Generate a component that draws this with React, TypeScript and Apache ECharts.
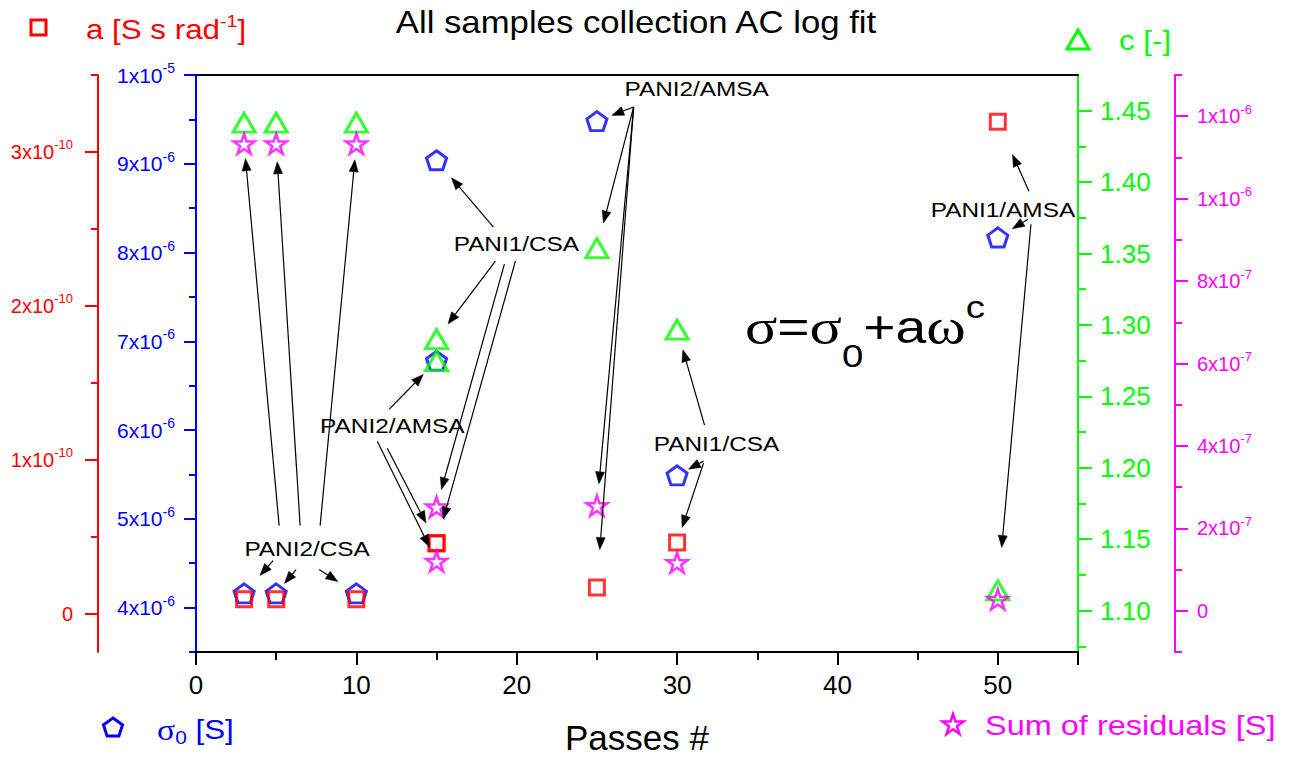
import React, { useEffect, useRef } from "react";
import * as echarts from "echarts";

const FONT = "'Liberation Sans', Arial, Helvetica, sans-serif";
const SERIF = "'Liberation Serif', 'Times New Roman', serif";

const BLUE = "#0000ff";
const RED = "#ff0000";
const GREEN = "#00ff00";
const MAGENTA = "#ff00ff";
const BLACK = "#000000";

// Number of passes for every fitted sample
const passes = [3, 5, 10, 15, 15, 25, 30, 50];
const sampleNames = ["PANI2/CSA", "PANI2/CSA", "PANI2/CSA", "PANI1/CSA", "PANI2/AMSA", "PANI2/AMSA", "PANI1/CSA", "PANI1/AMSA"];
// Fit parameters of sigma = sigma0 + a * omega^c
const sigma0 = [4.16e-6, 4.16e-6, 4.16e-6, 9.04e-6, 6.78e-6, 9.48e-6, 5.49e-6, 8.17e-6]; // [S]
const aCoef = [9.3e-12, 9.3e-12, 9.3e-12, 4.58e-11, 4.55e-11, 1.7e-11, 4.61e-11, 3.196e-10]; // [S s rad^-1]
const cExp = [1.4416, 1.4416, 1.4416, 1.29, 1.2746, 1.3538, 1.2967, 1.1142]; // [-]
const residuals = [1.133e-6, 1.133e-6, 1.133e-6, 2.52e-7, 1.2e-7, 2.55e-7, 1.17e-7, 2.8e-8]; // [S]

// Tick values of the four value axes
const sigmaMajor = [4e-6, 5e-6, 6e-6, 7e-6, 8e-6, 9e-6, 1e-5];
const sigmaMinor = [3.5e-6, 4.5e-6, 5.5e-6, 6.5e-6, 7.5e-6, 8.5e-6, 9.5e-6];
const aMajor = [0, 1e-10, 2e-10, 3e-10];
const aMinor = [5e-11, 1.5e-10, 2.5e-10, 3.5e-10];
const cMajor = [1.1, 1.15, 1.2, 1.25, 1.3, 1.35, 1.4, 1.45];
const cMinor = [1.075, 1.125, 1.175, 1.225, 1.275, 1.325, 1.375, 1.425];
const resMajor = [0, 2e-7, 4e-7, 6e-7, 8e-7, 1e-6, 1.2e-6];
const resMinor = [-1e-7, 1e-7, 3e-7, 5e-7, 7e-7, 9e-7, 1.1e-6, 1.3e-6];

type Key = "sigma0" | "aCoef" | "cExp" | "residuals";
const seriesValues: Record<Key, number[]> = { sigma0, aCoef, cExp, residuals };
const axisIndexOf: Record<Key, number> = { sigma0: 0, aCoef: 1, cExp: 2, residuals: 3 };

// Sample labels: anchor in (passes, sigma0) space, arrows start at a pixel offset from the label
// centre and point at one fitted point, stopping `gap` pixels short of it.
const annotations = [
  {
    text: "PANI2/CSA", x: 6.93, y: 4.665e-6,
    arrows: [
      { dx: -28, dy: -23, to: "residuals", i: 0, gap: 15 },
      { dx: -7, dy: -23, to: "residuals", i: 1, gap: 18 },
      { dx: 13, dy: -23, to: "residuals", i: 2, gap: 16 },
      { dx: -34, dy: 12, to: "sigma0", i: 0, gap: 24 },
      { dx: -11, dy: 21, to: "sigma0", i: 1, gap: 13 },
      { dx: 12, dy: 21, to: "sigma0", i: 2, gap: 22 },
    ],
  },
  {
    text: "PANI1/CSA", x: 19.98, y: 8.095e-6,
    arrows: [
      { dx: -23, dy: -17, to: "sigma0", i: 3, gap: 23 },
      { dx: -21, dy: 17, to: "cExp", i: 3, gap: 19 },
      { dx: -12, dy: 20, to: "residuals", i: 3, gap: 18 },
      { dx: -1, dy: 17, to: "aCoef", i: 3, gap: 25 },
    ],
  },
  {
    text: "PANI2/AMSA", x: 12.24, y: 6.055e-6,
    arrows: [
      { dx: -3, dy: -16, to: "sigma0", i: 4, gap: 19 },
      { dx: -15, dy: 16, to: "residuals", i: 4, gap: 16 },
      { dx: -5, dy: 23, to: "aCoef", i: 4, gap: 23 },
    ],
  },
  {
    text: "PANI2/AMSA", x: 31.22, y: 9.843e-6,
    arrows: [
      { dx: -63, dy: 18, to: "sigma0", i: 5, gap: 16 },
      { dx: -63, dy: 18, to: "cExp", i: 5, gap: 26 },
      { dx: -63, dy: 18, to: "residuals", i: 5, gap: 22 },
      { dx: -63, dy: 18, to: "aCoef", i: 5, gap: 38 },
    ],
  },
  {
    text: "PANI1/CSA", x: 32.46, y: 5.842e-6,
    arrows: [
      { dx: -12, dy: -19, to: "cExp", i: 6, gap: 21 },
      { dx: -13, dy: 17, to: "sigma0", i: 6, gap: 13 },
      { dx: -13, dy: 19, to: "aCoef", i: 6, gap: 16 },
    ],
  },
  {
    text: "PANI1/AMSA", x: 50.32, y: 8.487e-6,
    arrows: [
      { dx: 26, dy: -18, to: "aCoef", i: 7, gap: 36 },
      { dx: 25, dy: 10, to: "sigma0", i: 7, gap: 17 },
      { dx: 28, dy: 15, to: "cExp", i: 7, gap: 43 },
    ],
  },
];

const PENTAGON = "path://M50 0 L97.55 34.55 L79.39 90.45 L20.61 90.45 L2.45 34.55 Z";
const STAR =
  "path://M50 0 L61.23 34.55 L97.55 34.55 L68.17 55.9 L79.39 90.45 L50 69.1 L20.61 90.45 L31.83 55.9 L2.45 34.55 L38.77 34.55 Z";

function sciLabel(v: number): string {
  if (Math.abs(v) < 1e-20) return "{m|0}";
  const e = Math.floor(Math.log10(Math.abs(v)) + 1e-9);
  const m = Math.round(v / Math.pow(10, e));
  return `{m|${m}x10}{s|${e}}`;
}

function sciRich(color: string, size: number, supSize: number, lift: number) {
  return {
    m: { fontSize: size, color, fontFamily: FONT },
    s: { fontSize: supSize, color, fontFamily: FONT, padding: [0, 0, lift * 2, 0] },
  };
}

function valueAxis(o: {
  color: string; position: "left" | "right"; offset: number; min: number; max: number;
  ticks: number[]; tickLen: number; line: boolean; label?: any;
}) {
  return {
    type: "value",
    position: o.position,
    offset: o.offset,
    min: o.min,
    max: o.max,
    axisLine: { show: o.line, onZero: false, lineStyle: { color: o.color, width: 2 } },
    axisTick: { show: true, customValues: o.ticks, length: o.tickLen, lineStyle: { color: o.color, width: 2 } },
    axisLabel: o.label ? o.label : { show: false },
    splitLine: { show: false },
    axisPointer: { show: false },
  };
}

function pentagonPts(cx: number, cy: number, r: number) {
  const pts: number[][] = [];
  for (let k = 0; k < 5; k++) {
    const ang = (-90 + k * 72) * (Math.PI / 180);
    pts.push([cx + r * Math.cos(ang), cy + r * Math.sin(ang)]);
  }
  return pts;
}

function starPts(cx: number, cy: number, r: number) {
  const pts: number[][] = [];
  for (let k = 0; k < 10; k++) {
    const ang = (-90 + k * 36) * (Math.PI / 180);
    const rr = k % 2 === 0 ? r : r * 0.382;
    pts.push([cx + rr * Math.cos(ang), cy + rr * Math.sin(ang)]);
  }
  return pts;
}

const option: any = {
  animation: false,
  backgroundColor: "#ffffff",
  textStyle: { fontFamily: FONT },
  grid: { left: 196, top: 75, right: 217, bottom: 105, containLabel: false },
  tooltip: { show: false },
  xAxis: [
    {
      type: "value",
      min: 0,
      max: 55,
      interval: 10,
      position: "bottom",
      name: "Passes #",
      nameLocation: "middle",
      nameGap: 68,
      nameTextStyle: { fontSize: 35, color: BLACK, fontFamily: FONT },
      axisLine: { onZero: false, lineStyle: { color: BLACK, width: 2 } },
      axisTick: { length: 13, lineStyle: { color: BLACK, width: 2 } },
      minorTick: { show: true, splitNumber: 2, length: 8, lineStyle: { color: BLACK, width: 2 } },
      axisLabel: { fontSize: 26, color: BLACK, margin: 20, showMaxLabel: false, fontFamily: FONT },
      splitLine: { show: false },
      minorSplitLine: { show: false },
    },
    {
      type: "value",
      min: 0,
      max: 55,
      position: "top",
      axisLine: { onZero: false, lineStyle: { color: BLACK, width: 2 } },
      axisTick: { show: false },
      axisLabel: { show: false },
      splitLine: { show: false },
    },
  ],
  yAxis: [
    valueAxis({
      color: BLUE, position: "left", offset: 0, min: 3.5e-6, max: 1e-5, ticks: sigmaMajor, tickLen: 12, line: true,
      label: { customValues: sigmaMajor, formatter: sciLabel, rich: sciRich(BLUE, 21, 14, 7), margin: 21 },
    }),
    valueAxis({
      color: RED, position: "left", offset: 98, min: -2.5e-11, max: 3.5e-10, ticks: aMajor, tickLen: 13, line: true,
      label: { customValues: aMajor, formatter: sciLabel, rich: sciRich(RED, 20, 13, 7), margin: 25 },
    }),
    valueAxis({
      color: GREEN, position: "right", offset: 0, min: 1.071, max: 1.475, ticks: cMajor, tickLen: 14, line: true,
      label: {
        customValues: cMajor, formatter: (v: number) => v.toFixed(2), color: GREEN, fontSize: 26, fontFamily: FONT, margin: 22,
      },
    }),
    valueAxis({
      color: MAGENTA, position: "right", offset: 97, min: -1e-7, max: 1.3e-6, ticks: resMajor, tickLen: 13, line: true,
      label: { customValues: resMajor, formatter: sciLabel, rich: sciRich(MAGENTA, 20, 13, 7), margin: 22 },
    }),
    valueAxis({ color: BLUE, position: "left", offset: 0, min: 3.5e-6, max: 1e-5, ticks: sigmaMinor, tickLen: 7, line: false }),
    valueAxis({ color: RED, position: "left", offset: 98, min: -2.5e-11, max: 3.5e-10, ticks: aMinor, tickLen: 7, line: false }),
    valueAxis({ color: GREEN, position: "right", offset: 0, min: 1.071, max: 1.475, ticks: cMinor, tickLen: 8, line: false }),
    valueAxis({ color: MAGENTA, position: "right", offset: 97, min: -1e-7, max: 1.3e-6, ticks: resMinor, tickLen: 7, line: false }),
  ],
  series: [
    {
      name: "σ0 [S]", type: "scatter", yAxisIndex: 0, symbol: PENTAGON, symbolSize: [20, 19],
      itemStyle: { color: "rgba(255,255,255,0)", borderColor: BLUE, borderWidth: 3 },
      data: passes.map((p, i) => ({ value: [p, sigma0[i]], name: sampleNames[i] })),
      silent: true,
    },
    {
      name: "a [S s rad-1]", type: "scatter", yAxisIndex: 1, symbol: "rect", symbolSize: 15,
      itemStyle: { color: "rgba(255,255,255,0)", borderColor: RED, borderWidth: 3 },
      data: passes.map((p, i) => ({ value: [p, aCoef[i]], name: sampleNames[i] })),
      silent: true,
    },
    {
      name: "c [-]", type: "scatter", yAxisIndex: 2, symbol: "triangle", symbolSize: [22, 19],
      itemStyle: { color: "rgba(255,255,255,0)", borderColor: GREEN, borderWidth: 3 },
      data: passes.map((p, i) => ({ value: [p, cExp[i]], name: sampleNames[i] })),
      silent: true,
    },
    {
      name: "Sum of residuals [S]", type: "scatter", yAxisIndex: 3, symbol: STAR, symbolSize: [21, 20],
      itemStyle: { color: "rgba(255,255,255,0)", borderColor: MAGENTA, borderWidth: 2.5 },
      data: passes.map((p, i) => ({ value: [p, residuals[i]], name: sampleNames[i] })),
      silent: true,
    },
  ],
};

function buildGraphics(chart: any) {
  const els: any[] = [];

  // title
  els.push({
    type: "text", x: 636, y: 22, scaleX: 1.12,
    style: { text: "All samples collection AC log fit", fontSize: 31, fontFamily: FONT, fill: BLACK, align: "center", verticalAlign: "middle" },
  });

  // legend: a
  els.push({ type: "rect", shape: { x: 31, y: 20, width: 15, height: 15 }, style: { fill: "none", stroke: RED, lineWidth: 3 } });
  els.push({
    type: "text", x: 86, y: 30, scaleX: 1.16,
    style: {
      text: "{m|a [S s rad}{s|-1}{m|]}", align: "left", verticalAlign: "middle",
      rich: {
        m: { fontSize: 27, fontFamily: FONT, fill: RED },
        s: { fontSize: 17, fontFamily: FONT, fill: RED, padding: [0, 0, 18, 0] },
      },
    },
  });
  // legend: c
  els.push({
    type: "polygon", shape: { points: [[1078, 30], [1089, 49], [1067, 49]] },
    style: { fill: "none", stroke: GREEN, lineWidth: 3 },
  });
  els.push({
    type: "text", x: 1119, y: 41, scaleX: 1.16,
    style: { text: "c [-]", fontSize: 27, fontFamily: FONT, fill: GREEN, align: "left", verticalAlign: "middle" },
  });
  // legend: sigma0
  els.push({ type: "polygon", shape: { points: pentagonPts(113, 728, 10) }, style: { fill: "none", stroke: BLUE, lineWidth: 3 } });
  els.push({
    type: "text", x: 157, y: 730, scaleX: 1.16,
    style: {
      text: "{g|σ}{b|0}{m| [S]}", align: "left", verticalAlign: "middle",
      rich: {
        g: { fontSize: 29, fontFamily: SERIF, fill: BLUE },
        b: { fontSize: 18, fontFamily: FONT, fill: BLUE, padding: [16, 0, 0, 0] },
        m: { fontSize: 27, fontFamily: FONT, fill: BLUE },
      },
    },
  });
  // legend: residuals
  els.push({ type: "polygon", shape: { points: starPts(953, 725, 11) }, style: { fill: "none", stroke: MAGENTA, lineWidth: 2.5 } });
  els.push({
    type: "text", x: 985, y: 725, scaleX: 1.16,
    style: { text: "Sum of residuals [S]", fontSize: 28, fontFamily: FONT, fill: MAGENTA, align: "left", verticalAlign: "middle" },
  });

  // model equation
  els.push({
    type: "text", x: 745, y: 327, scaleX: 1.2,
    style: {
      text: "{g|σ}{m|=}{g|σ}{b|0}{m|+a}{g|ω}{p|c}", align: "left", verticalAlign: "middle",
      rich: {
        g: { fontSize: 50, fontFamily: SERIF, fill: BLACK },
        m: { fontSize: 46, fontFamily: FONT, fill: BLACK },
        b: { fontSize: 32, fontFamily: FONT, fill: BLACK, padding: [58, 0, 0, 0] },
        p: { fontSize: 32, fontFamily: FONT, fill: BLACK, padding: [0, 0, 40, 0] },
      },
    },
  });

  // sample labels with arrows to their fitted points
  for (const ann of annotations) {
    const c = chart.convertToPixel({ xAxisIndex: 0, yAxisIndex: 0 }, [ann.x, ann.y]);
    els.push({
      type: "text", x: c[0], y: c[1], scaleX: 1.16, z: 20,
      style: { text: ann.text, fontSize: 21, fontFamily: FONT, fill: BLACK, align: "center", verticalAlign: "middle" },
    });
    for (const ar of ann.arrows) {
      const key = ar.to as Key;
      const tx = c[0] + ar.dx;
      const ty = c[1] + ar.dy;
      const p = chart.convertToPixel({ xAxisIndex: 0, yAxisIndex: axisIndexOf[key] }, [passes[ar.i], seriesValues[key][ar.i]]);
      const vx = p[0] - tx;
      const vy = p[1] - ty;
      const len = Math.sqrt(vx * vx + vy * vy);
      const ux = vx / len;
      const uy = vy / len;
      const hx = p[0] - ux * ar.gap;
      const hy = p[1] - uy * ar.gap;
      const L = 12;
      const W = 4.5;
      const bx = hx - ux * L;
      const by = hy - uy * L;
      els.push({
        type: "line", z: 20, silent: true,
        shape: { x1: tx, y1: ty, x2: bx, y2: by },
        style: { stroke: BLACK, lineWidth: 1.2 },
      });
      els.push({
        type: "polygon", z: 20, silent: true,
        shape: { points: [[hx, hy], [bx - uy * W, by + ux * W], [bx + uy * W, by - ux * W]] },
        style: { fill: BLACK, stroke: BLACK, lineWidth: 0.5 },
      });
    }
  }
  return els;
}

export default function App() {
  const ref = useRef<HTMLDivElement>(null);
  useEffect(() => {
    document.body.style.margin = "0";
    const chart = echarts.init(ref.current as HTMLDivElement, undefined, { renderer: "svg" });
    chart.setOption(option);
    chart.setOption({ graphic: buildGraphics(chart) });
    return () => chart.dispose();
  }, []);
  return <div ref={ref} style={{ width: 1295, height: 760, background: "#ffffff" }} />;
}
